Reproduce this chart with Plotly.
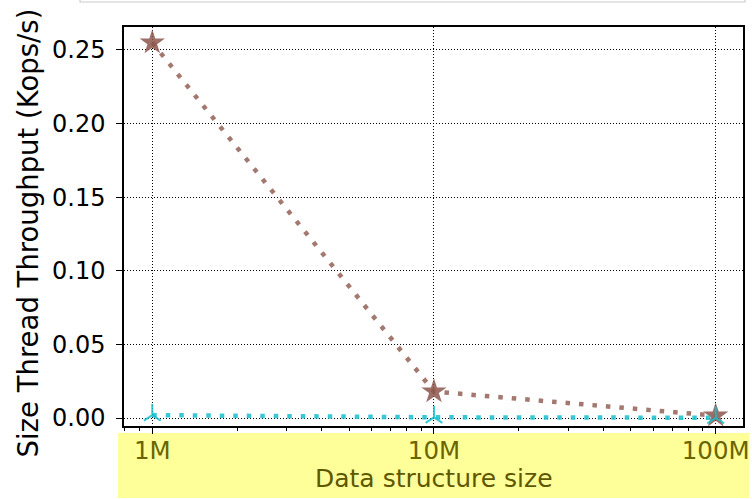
import plotly.graph_objects as go

sizes = [1e6, 1e7, 1e8]
size_labels = ["1M", "10M", "100M"]
series_a = [0.255, 0.018, 0.0016]
series_b = [0.002, 0.0005, 0.0002]
y_ticks = [0.0, 0.05, 0.10, 0.15, 0.20, 0.25]
minor_x = [k * 10 ** e for e in range(5, 9) for k in range(2, 10)]

W, H = 752, 499
L, R, T, B = 124, 743, 27, 426  # plot area in pixels
pw, ph = R - L, B - T


def px(x):
    return (x - L) / pw


def py(y):
    return (B - y) / ph


brown = "rgba(140,86,75,0.8)"
cyan = "rgba(23,190,207,0.85)"

fig = go.Figure()
fig.add_trace(go.Scatter(
    x=sizes, y=series_a, mode="lines+markers",
    line=dict(color=brown, width=4.5, dash="4.5px,9px"),
    marker=dict(symbol="star", size=19, color="rgba(140,86,75,0.85)"),
    showlegend=False,
))
fig.add_trace(go.Scatter(
    x=sizes, y=series_b, mode="lines+markers",
    line=dict(color=cyan, width=4.5, dash="4.5px,9px"),
    marker=dict(symbol="y-up", size=14, line=dict(color=cyan, width=2)),
    showlegend=False,
))

# yellow highlight behind x-axis labels
fig.add_shape(type="rect", xref="paper", yref="paper",
              x0=px(118), x1=px(749), y0=py(498), y1=py(433),
              fillcolor="#ffff99", line=dict(width=0), layer="below")
# partially visible legend frame at top
fig.add_shape(type="rect", xref="paper", yref="paper",
              x0=px(80), x1=px(745), y0=py(2), y1=py(-40),
              fillcolor="rgba(255,255,255,0)", line=dict(color="#cccccc", width=1.2))

fig.add_annotation(text="Size Thread Throughput (Kops/s)", textangle=-90,
                   xref="paper", yref="paper", x=px(28), y=py(460),
                   xanchor="center", yanchor="bottom", showarrow=False,
                   font=dict(family="DejaVu Sans", size=27.5, color="black"))
fig.add_annotation(text="Data structure size",
                   xref="paper", yref="paper", x=px(434), y=py(478),
                   xanchor="center", yanchor="middle", showarrow=False,
                   font=dict(family="DejaVu Sans", size=25, color="#5e5800"))

fig.update_layout(
    width=W, height=H,
    margin=dict(l=L, r=W - R, t=T, b=H - B, autoexpand=False),
    paper_bgcolor="white", plot_bgcolor="white",
    font=dict(family="DejaVu Sans", size=24, color="black"),
    xaxis=dict(
        type="log", range=[5.8996, 8.097],
        tickvals=sizes, ticktext=size_labels,
        tickfont=dict(color="#6b6500", size=24.5),
        ticks="outside", ticklen=6, tickwidth=1.3, tickcolor="black",
        ticklabelstandoff=-4,
        minor=dict(tickmode="array", tickvals=minor_x, ticks="outside",
                   ticklen=3, tickwidth=1, tickcolor="black", showgrid=False),
        showgrid=True, gridcolor="black", griddash="1px,2px", gridwidth=1,
        showline=True, linecolor="black", linewidth=1.5, mirror=True,
        zeroline=False, automargin=False,
    ),
    yaxis=dict(
        range=[-0.0054, 0.2656],
        tickvals=y_ticks, tickformat=".2f",
        tickfont=dict(size=24),
        ticks="outside", ticklen=6, tickwidth=1.3, tickcolor="black",
        ticklabelstandoff=6,
        showgrid=True, gridcolor="black", griddash="1px,2px", gridwidth=1,
        showline=True, linecolor="black", linewidth=1.5, mirror=True,
        zeroline=False, automargin=False,
    ),
)

fig.write_html("out.html", config={"displayModeBar": False},
               post_script="document.body.style.margin='0';")
